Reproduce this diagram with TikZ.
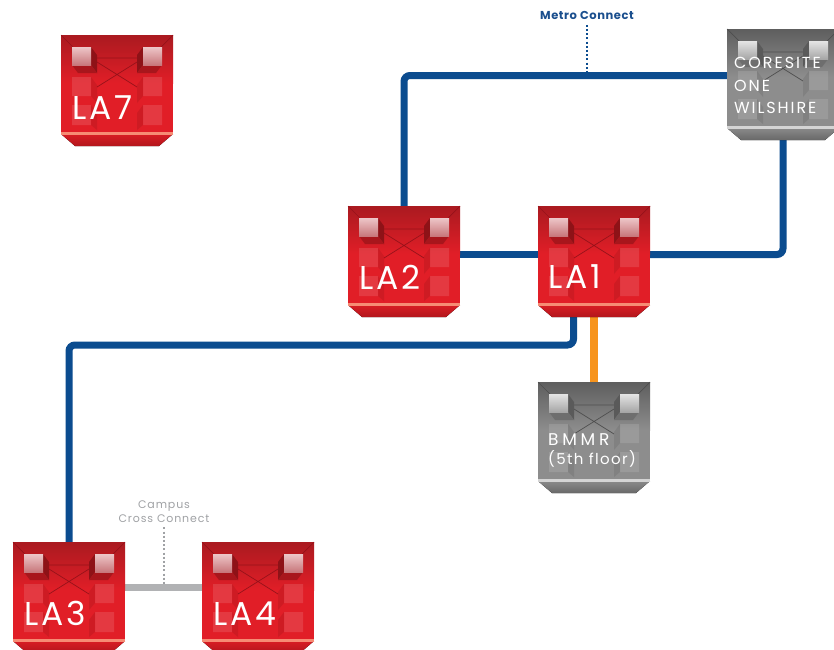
\documentclass[tikz,border=0pt]{standalone}
\usepackage{fontspec}
\setmainfont{Poppins}
\usetikzlibrary{backgrounds,calc}
\pgfdeclarelayer{paper}
\pgfsetlayers{paper,background,main}
\definecolor{lineBlue}{HTML}{0B4C8F}
\definecolor{lineOrange}{HTML}{F7941D}
\definecolor{lineGray}{HTML}{B1B2B4}
\definecolor{labelGray}{HTML}{A0A2A5}
\definecolor{metroBlue}{HTML}{1B4F8E}
% red scheme
\definecolor{redTop}{HTML}{AA1A20}
\definecolor{redBody}{HTML}{E11E27}
\definecolor{redLine}{HTML}{96121A}
\definecolor{redSide}{HTML}{8E1217}
\definecolor{redSideB}{HTML}{A8161C}
\definecolor{redCubeT}{HTML}{EDC6C8}
\definecolor{redCubeB}{HTML}{C8777B}
\definecolor{redBand}{HTML}{F68C74}
\definecolor{redTrap}{HTML}{D81D24}
\definecolor{redTrapB}{HTML}{B3161C}
% gray scheme
\definecolor{grayTop}{HTML}{5E5E5E}
\definecolor{grayBody}{HTML}{8D8D8D}
\definecolor{grayLine}{HTML}{4E4E4E}
\definecolor{graySide}{HTML}{5A5A5A}
\definecolor{graySideB}{HTML}{6E6E6E}
\definecolor{grayCubeT}{HTML}{E4E4E4}
\definecolor{grayCubeB}{HTML}{A6A6A6}
\definecolor{grayBand}{HTML}{D4D4D4}
\definecolor{grayTrap}{HTML}{8A8A8A}
\definecolor{grayTrapB}{HTML}{686868}
\tikzset{
  iconbox/.style={anchor=north west, minimum width=112pt, minimum height=97pt,
    inner sep=0pt, outer sep=0pt},
  lalabel/.style={anchor=base west, text=white, inner sep=0pt,
    font=\fontsize{33}{33}\selectfont\addfontfeatures{LetterSpace=9}},
  cslabel/.style={anchor=base west, text=white, inner sep=0pt,
    font=\fontsize{16}{18}\selectfont\addfontfeatures{LetterSpace=12}},
  bmlabel/.style={anchor=base west, text=white, inner sep=0pt},
  blueline/.style={draw=lineBlue, line width=7pt, rounded corners=6pt},
  orangeline/.style={draw=lineOrange, line width=8pt},
  grayline/.style={draw=lineGray, line width=7pt},
  metrodots/.style={draw=lineBlue, line width=2pt, dash pattern=on 2pt off 2.2pt},
  campusdots/.style={draw=labelGray, line width=2pt, dash pattern=on 2pt off 2.2pt},
  metrolabel/.style={anchor=base, text=metroBlue, inner sep=0pt,
    font=\fontsize{11.5}{13}\selectfont\bfseries\addfontfeatures{LetterSpace=5}},
  campuslabel/.style={anchor=base, text=labelGray, inner sep=0pt,
    font=\fontsize{11}{13}\selectfont\addfontfeatures{LetterSpace=8}},
}
\newcommand\dcicon[4]{%
  \node[iconbox] (#1) at (#2,#3) {};
  \begin{scope}[shift={(#1.north west)}]
    \fill[top color=#4Trap, bottom color=#4TrapB] (0,99) -- (112,99) -- (98,111) -- (14,111) -- cycle;
    \fill[#4Body] (0,0) rectangle (112,97);
    \fill[top color=#4Top, bottom color=#4Body] (0,0) rectangle (112,48);
    \draw[#4Line, line width=0.7pt] (0,0) -- (12,12) (112,0) -- (100,12)
      (36,23) -- (76,23) (36,27) -- (76,52) (36,52) -- (76,27);
    \fill[white, opacity=0.12] (11,42) rectangle (30,61) (11,70) rectangle (30,90)
      (82,42) rectangle (101,61) (82,70) rectangle (101,90);
    \fill[#4Side, opacity=0.22] (30,42) -- (36,50) -- (36,68) -- (30,61) -- cycle
      (82,42) -- (76,50) -- (76,68) -- (82,61) -- cycle
      (30,70) -- (36,78) -- (36,95) -- (30,90) -- cycle
      (82,70) -- (76,78) -- (76,95) -- (82,90) -- cycle;
    \fill[#4Side] (30,12) -- (36,20) -- (36,38) -- (30,30) -- cycle;
    \fill[#4SideB] (11,30) -- (30,30) -- (36,38) -- (17,38) -- cycle;
    \fill[top color=#4CubeT, bottom color=#4CubeB] (11,12) rectangle (30,30);
    \fill[#4Side] (82,12) -- (76,20) -- (76,38) -- (82,30) -- cycle;
    \fill[#4SideB] (82,30) -- (101,30) -- (95,38) -- (76,38) -- cycle;
    \fill[top color=#4CubeT, bottom color=#4CubeB] (82,12) rectangle (101,30);
    \fill[#4Band] (0,97) rectangle (112,99.5);
  \end{scope}
}
\begin{document}
\begin{tikzpicture}[x=1pt, y=-1pt]
  \useasboundingbox (0,0) rectangle (834,649);
  \begin{pgfonlayer}{paper}
    \fill[white] (0,0) rectangle (834,649);
  \end{pgfonlayer}
  \clip (0,0) rectangle (834,649);

  \dcicon{LA7}{61}{35}{red}
  \dcicon{CS}{727}{29}{gray}
  \dcicon{LA2}{348}{206}{red}
  \dcicon{LA1}{538}{206}{red}
  \dcicon{BMMR}{538}{382}{gray}
  \dcicon{LA3}{13}{542}{red}
  \dcicon{LA4}{202}{542}{red}

  \node[lalabel] (LA7-t) at ($(LA7.north west)+(11,84)$) {LA7};
  \node[lalabel] (LA2-t) at ($(LA2.north west)+(11,83)$) {LA2};
  \node[lalabel] (LA1-t) at ($(LA1.north west)+(10,82)$) {LA1};
  \node[lalabel] (LA3-t) at ($(LA3.north west)+(11,83)$) {LA3};
  \node[lalabel] (LA4-t) at ($(LA4.north west)+(11,83)$) {LA4};

  \node[cslabel] (CS-t1) at ($(CS.north west)+(7,39)$) {CORESITE};
  \node[cslabel] (CS-t2) at ($(CS.north west)+(7,62)$) {ONE};
  \node[cslabel] (CS-t3) at ($(CS.north west)+(7,84)$) {WILSHIRE};

  \node[bmlabel, font=\fontsize{17}{20}\selectfont\addfontfeatures{LetterSpace=22}] (BMMR-t1) at ($(BMMR.north west)+(10,63)$) {BMMR};
  \node[bmlabel, font=\fontsize{15}{17}\selectfont\addfontfeatures{LetterSpace=9}] (BMMR-t2) at ($(BMMR.north west)+(10,82)$) {(5th floor)};

  \node[metrolabel] (metro) at (587,19.5) {Metro Connect};
  \coordinate (metroTap) at (587,72);
  \node[campuslabel] (campus1) at (164,508) {Campus};
  \node[campuslabel] (campus2) at (164,522) {Cross Connect};
  \coordinate (campusTap) at (164,585);

  \begin{pgfonlayer}{background}
    \draw[blueline] (LA2.north) |- ([yshift=2pt]CS.west);
    \draw[blueline] (LA2.east) -- (LA1.west);
    \draw[blueline] (LA1.east) -| (CS.south);
    \coordinate (LA1-out) at ([xshift=-20.5pt]LA1.south);
    \coordinate (bend) at ($(LA1-out)+(0,42)$);
    \draw[blueline] (LA1-out) -- (bend) -| (LA3.north);
    \draw[orangeline] (LA1.south) -- (BMMR.north);
    \draw[grayline] ([yshift=3pt]LA3.east) -- ([yshift=3pt]LA4.west);
    \draw[metrodots] ([yshift=-5pt]metro.south) -- (metroTap);
    \draw[campusdots] ([yshift=-5pt]campus2.south) -- (campusTap);
  \end{pgfonlayer}
\end{tikzpicture}
\end{document}
